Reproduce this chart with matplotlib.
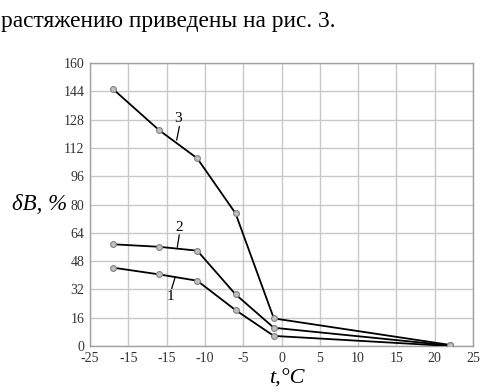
import matplotlib
matplotlib.use("Agg")
import matplotlib.pyplot as plt

# Data
t_vals = [-22, -16, -11, -6, -1, 22]
curve1 = [44.3, 40.5, 36.9, 20.3, 5.7, 0.0]
curve2 = [57.5, 56.1, 53.9, 29.2, 10.3, 0.3]
curve3 = [145.3, 122.1, 106.1, 75.0, 15.6, 0.6]

x_ticks = [-25, -20, -15, -10, -5, 0, 5, 10, 15, 20, 25]
x_tick_labels = ["-25", "-15", "-15", "-10", "-5", "0", "5", "10", "15", "20", "25"]
y_ticks = [0, 16, 32, 48, 64, 80, 96, 112, 128, 144, 160]

curve_names = ["1", "2", "3"]
label_pos = [(-14.55, 28.0), (-13.35, 67.0), (-13.45, 128.5)]
leader_start = [(-13.9, 38.6), (-13.6, 56.0), (-13.68, 116.5)]
leader_end = [(-14.33, 32.6), (-13.35, 62.7), (-13.34, 124.0)]

caption = "растяжению приведены на рис. 3."

serif = ["Liberation Serif", "DejaVu Serif"]

fig = plt.figure(figsize=(4.84, 3.92), dpi=100)
ax = fig.add_axes([90 / 484, 46 / 392, 383 / 484, 283 / 392])

for ys in (curve1, curve2, curve3):
    ax.plot(t_vals, ys, color="black", lw=1.3, marker="o", markersize=4.2,
            markerfacecolor="#c0c0c0", markeredgecolor="#808080", markeredgewidth=0.8,
            zorder=3)

for name, lp, s0, s1 in zip(curve_names, label_pos, leader_start, leader_end):
    ax.plot([s0[0], s1[0]], [s0[1], s1[1]], color="black", lw=0.9, zorder=4)
    ax.text(lp[0], lp[1], name, fontsize=11, family=serif, ha="center", va="center", zorder=4)

ax.set_xlim(-25, 25)
ax.set_ylim(0, 160)
ax.set_xticks(x_ticks)
ax.set_xticklabels(x_tick_labels)
ax.set_yticks(y_ticks)
ax.grid(True, color="#c8c8c8", lw=1.0)
ax.set_axisbelow(True)
for s in ax.spines.values():
    s.set_color("#a0a0a0")
    s.set_linewidth(1.0)
ax.tick_params(length=0, pad=4, labelsize=10, colors="#333333")
for lab in ax.get_xticklabels() + ax.get_yticklabels():
    lab.set_family(serif)

fig.text(1 / 484, 1 - 21 / 392, caption, fontsize=16.8, family=serif, ha="left", va="center")
fig.text(40 / 484, 1 - 205 / 392, "δB, %", fontsize=16.5, family=serif, style="italic",
         ha="center", va="center")
fig.text(287 / 484, 1 - 379 / 392, "t,°C", fontsize=16, family=serif, style="italic",
         ha="center", va="center")

fig.savefig("out.png", dpi=100)
